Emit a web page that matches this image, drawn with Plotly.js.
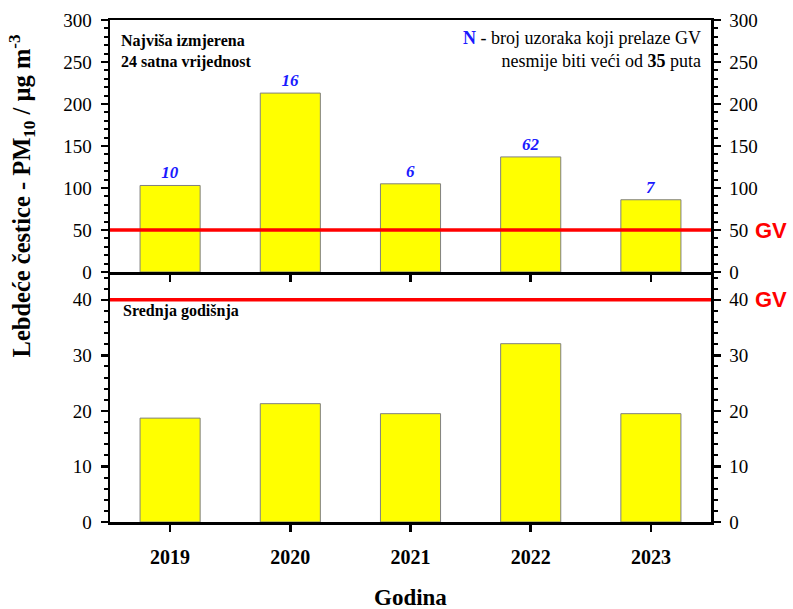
<!DOCTYPE html>
<html>
<head>
<meta charset="utf-8">
<script src="https://cdn.plot.ly/plotly-3.0.1.min.js"></script>
<style>html,body{margin:0;padding:0;background:#fff}#chart{width:793px;height:609px}</style>
</head>
<body>
<div id="chart"></div>
<script>
const years = ['2019', '2020', '2021', '2022', '2023'];
const maxDaily = [103, 213, 105, 137, 86];
const annualMean = [18.7, 21.3, 19.5, 32.1, 19.5];
const exceedCount = ['10', '16', '6', '62', '7'];
const limitDaily = 50;
const limitAnnual = 40;

const serif = 'Liberation Serif';
const sans = 'Liberation Sans';
const barStyle = {color: '#ffff00', line: {color: '#808080', width: 1}};

const traces = [
  {type: 'bar', x: years, y: maxDaily, xaxis: 'x2', yaxis: 'y', width: 0.5, marker: barStyle, hoverinfo: 'skip',
   text: exceedCount.map(s => '<b><i>' + s + '</i></b>'), textposition: 'outside', cliponaxis: false,
   textfont: {family: serif, size: 17, color: '#1a1aff'}},
  {type: 'bar', x: years, y: annualMean, xaxis: 'x', yaxis: 'y2', width: 0.5, marker: barStyle, hoverinfo: 'skip'},
  {type: 'scatter', x: years, y: maxDaily, xaxis: 'x2', yaxis: 'y3', mode: 'none', hoverinfo: 'skip'},
  {type: 'scatter', x: years, y: annualMean, xaxis: 'x', yaxis: 'y4', mode: 'none', hoverinfo: 'skip'}
];

const axLine = {showline: true, linecolor: '#000', linewidth: 2.5, zeroline: false, showgrid: false};
const yTick = {ticks: 'outside', ticklen: 7, tickwidth: 2.5, tickcolor: '#000', ticklabelstandoff: 5,
  tickfont: {family: serif, size: 19, color: '#000'}};

const annotations = [
  {xref: 'paper', yref: 'paper', x: 0.015, y: 0.98, xanchor: 'left', yanchor: 'top', align: 'left', showarrow: false,
   text: '<b>Najviša izmjerena<br>24 satna vrijednost</b>', font: {family: serif, size: 16, color: '#000'}},
  {xref: 'paper', yref: 'paper', x: 0.987, y: 0.988, xanchor: 'right', yanchor: 'top', align: 'right', showarrow: false,
   text: '<b><span style="color:#1a1aff">N</span></b> - broj uzoraka koji prelaze GV<br>nesmije biti veći od <b>35</b> puta',
   font: {family: serif, size: 18, color: '#000'}},
  {xref: 'paper', yref: 'paper', x: 0.018, y: 0.42, xanchor: 'left', yanchor: 'middle', showarrow: false,
   text: '<b>Srednja godišnja</b>', font: {family: serif, size: 16, color: '#000'}},
  {xref: 'paper', yref: 'y', x: 1.07, y: limitDaily, xanchor: 'left', yanchor: 'middle', showarrow: false,
   text: '<b>GV</b>', font: {family: sans, size: 22, color: '#ff0000'}},
  {xref: 'paper', yref: 'y2', x: 1.07, y: limitAnnual, xanchor: 'left', yanchor: 'middle', showarrow: false,
   text: '<b>GV</b>', font: {family: sans, size: 22, color: '#ff0000'}},
  {xref: 'paper', yref: 'paper', x: -0.146, y: 0.649, xanchor: 'center', yanchor: 'middle', textangle: -90, showarrow: false,
   text: '<b>Lebdeće čestice - PM<sub>10</sub> / µg m<sup>-3</sup></b>', font: {family: serif, size: 24.5, color: '#000'}},
  {xref: 'paper', yref: 'paper', x: 0.5, y: -0.15, xanchor: 'center', yanchor: 'middle', showarrow: false,
   text: '<b>Godina</b>', font: {family: serif, size: 23, color: '#000'}}
];

const layout = {
  width: 793, height: 609,
  margin: {l: 110, r: 82, t: 20, b: 87},
  paper_bgcolor: '#fff', plot_bgcolor: '#fff',
  showlegend: false,
  bargap: 0.5,
  xaxis: Object.assign({}, axLine, {anchor: 'y2', type: 'category', range: [-0.5, 4.5],
    ticks: 'outside', ticklen: 7, tickwidth: 2.5, tickcolor: '#000', ticklabelstandoff: 8,
    tickfont: {family: serif, size: 20, color: '#000', weight: 'bold'}}),
  xaxis2: Object.assign({}, axLine, {anchor: 'y', matches: 'x', type: 'category', range: [-0.5, 4.5],
    ticks: 'outside', ticklen: 7, tickwidth: 2.5, tickcolor: '#000', showticklabels: false, mirror: true}),
  yaxis: Object.assign({}, axLine, yTick, {domain: [0.498, 1], anchor: 'x2', range: [0, 300], dtick: 50,
    minor: {dtick: 10, ticks: 'outside', ticklen: 4, tickwidth: 2, tickcolor: '#000', showgrid: false}}),
  yaxis2: Object.assign({}, axLine, yTick, {domain: [0, 0.498], anchor: 'x', range: [0, 45], dtick: 10,
    minor: {dtick: 2, ticks: 'outside', ticklen: 4, tickwidth: 2, tickcolor: '#000', showgrid: false}}),
  yaxis3: Object.assign({}, axLine, yTick, {overlaying: 'y', side: 'right', anchor: 'x2', range: [0, 300], dtick: 50,
    minor: {dtick: 10, ticks: 'outside', ticklen: 4, tickwidth: 2, tickcolor: '#000', showgrid: false}}),
  yaxis4: Object.assign({}, axLine, yTick, {overlaying: 'y2', side: 'right', anchor: 'x', range: [0, 45], dtick: 10,
    minor: {dtick: 2, ticks: 'outside', ticklen: 4, tickwidth: 2, tickcolor: '#000', showgrid: false}}),
  shapes: [
    {type: 'line', xref: 'x2 domain', yref: 'y', x0: 0, x1: 1, y0: limitDaily, y1: limitDaily, line: {color: '#ff0000', width: 3.5}},
    {type: 'line', xref: 'x domain', yref: 'y2', x0: 0, x1: 1, y0: limitAnnual, y1: limitAnnual, line: {color: '#ff0000', width: 3.5}}
  ],
  annotations: annotations
};

Plotly.newPlot('chart', traces, layout, {staticPlot: true, displayModeBar: false});
</script>
</body>
</html>
